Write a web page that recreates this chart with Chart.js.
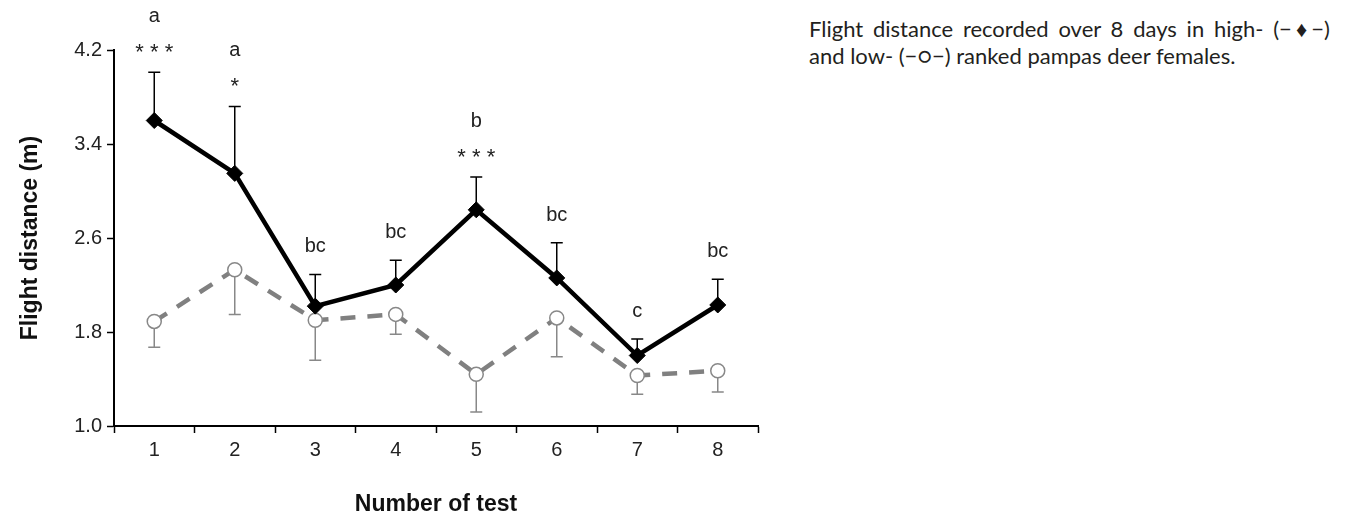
<!DOCTYPE html>
<html>
<head>
<meta charset="utf-8">
<script src="https://cdn.jsdelivr.net/npm/chart.js@4.4.1/dist/chart.umd.min.js"></script>
<style>
    body { margin: 0; background: #fff; }
    #wrap { position: absolute; left: 0; top: 0; width: 800px; height: 518px; }
    #caption {
        position: absolute; left: 809px; top: 15px; width: 521px;
        font-family: Lato, "Open Sans", sans-serif; font-size: 22px; line-height: 27px;
        color: #231f20;
    }
    #caption .l1 { text-align: justify; text-align-last: justify; text-justify: inter-word; white-space: nowrap; }
    #caption .sym { white-space: nowrap; }
</style>
</head>
<body>
<div id="wrap"><canvas id="myChart"></canvas></div>
<div id="caption">
    <div class="l1">Flight distance recorded over 8 days in high- <span class="sym">(−♦−)</span></div>
    <div>and low- <span class="sym">(−○−)</span> ranked pampas deer females.</div>
</div>
<script>
// Dados
const tests = ['1', '2', '3', '4', '5', '6', '7', '8'];
const highMean = [3.60, 3.15, 2.02, 2.20, 2.84, 2.26, 1.60, 2.03];
const highErr = [0.41, 0.57, 0.27, 0.21, 0.28, 0.30, 0.14, 0.22];
const lowMean = [1.89, 2.33, 1.90, 1.95, 1.44, 1.92, 1.43, 1.47];
const lowErr = [0.22, 0.38, 0.34, 0.17, 0.32, 0.33, 0.16, 0.18];
const letters = ['a', 'a', 'bc', 'bc', 'b', 'bc', 'c', 'bc'];
const stars = ['***', '*', '', '', '***', '', '', ''];
const yTicks = [1.0, 1.8, 2.6, 3.4, 4.2];

const FONT = '"Liberation Sans", Arial, sans-serif';

// Barras de erro (alto: para cima, baixo: para baixo)
const errorBars = {
    id: 'errorBars',
    beforeDatasetsDraw(chart) {
        const ctx = chart.ctx;
        const y = chart.scales.y;
        chart.data.datasets.forEach(function (ds, i) {
            const meta = chart.getDatasetMeta(i);
            ctx.save();
            ctx.strokeStyle = ds.errColor;
            ctx.lineWidth = 1.5;
            meta.data.forEach(function (pt, j) {
                const end = y.getPixelForValue(ds.data[j] + ds.errDir * ds.errValues[j]);
                ctx.beginPath();
                ctx.moveTo(pt.x, pt.y);
                ctx.lineTo(pt.x, end);
                ctx.moveTo(pt.x - 6, end);
                ctx.lineTo(pt.x + 6, end);
                ctx.stroke();
            });
            ctx.restore();
        });
    }
};

// Letras e asteriscos acima das barras
const labelsPlugin = {
    id: 'sigLabels',
    afterDatasetsDraw(chart) {
        const ctx = chart.ctx;
        const x = chart.scales.x;
        const y = chart.scales.y;
        ctx.save();
        ctx.fillStyle = '#222';
        ctx.textAlign = 'center';
        ctx.textBaseline = 'alphabetic';
        tests.forEach(function (t, i) {
            const px = x.getPixelForValue(i);
            let base = y.getPixelForValue(highMean[i] + highErr[i]) - 22;
            if (stars[i]) {
                ctx.font = '22px ' + FONT;
                ctx.fillText(stars[i].split('').join(' '), px, base + 9);
                base -= 28;
            }
            ctx.font = '20px ' + FONT;
            ctx.fillText(letters[i], px, base);
        });
        ctx.restore();
    }
};

const ctx = document.getElementById('myChart').getContext('2d');
const myChart = new Chart(ctx, {
    type: 'line',
    data: {
        labels: tests,
        datasets: [{
            label: 'high',
            data: highMean,
            errValues: highErr,
            errDir: 1,
            errColor: '#000',
            borderColor: '#000',
            borderWidth: 4.5,
            pointStyle: 'rectRot',
            pointRadius: 8,
            pointBackgroundColor: '#000',
            pointBorderColor: '#000',
            pointBorderWidth: 1,
            clip: false
        }, {
            label: 'low',
            data: lowMean,
            errValues: lowErr,
            errDir: -1,
            errColor: '#888',
            borderColor: '#808080',
            borderWidth: 4.5,
            borderDash: [15, 12],
            pointStyle: 'circle',
            pointRadius: 7,
            pointBackgroundColor: '#fff',
            pointBorderColor: '#888',
            pointBorderWidth: 1.5,
            clip: false
        }]
    },
    options: {
        responsive: true,
        maintainAspectRatio: false,
        animation: false,
        layout: { padding: { top: 50, right: 42, left: 0, bottom: 0 } },
        plugins: {
            legend: { display: false },
            tooltip: { enabled: false }
        },
        scales: {
            x: {
                type: 'category',
                offset: true,
                grid: { offset: true, drawOnChartArea: false, tickLength: 7, tickColor: '#000', tickWidth: 1.5 },
                border: { color: '#000', width: 2 },
                ticks: { color: '#222', padding: 5, font: { family: FONT, size: 20 } },
                title: {
                    display: true, text: 'Number of test', color: '#111',
                    font: { family: FONT, size: 23, weight: 'bold' }, padding: { top: 0, bottom: 0 }
                },
                afterFit: function (scale) { scale.height = 92; }
            },
            y: {
                min: 1.0,
                max: 4.2,
                afterBuildTicks: function (scale) {
                    scale.ticks = yTicks.map(function (v) { return { value: v }; });
                },
                grid: { drawOnChartArea: false, tickLength: 7, tickColor: '#000', tickWidth: 1.5 },
                border: { color: '#000', width: 2 },
                ticks: {
                    color: '#222', padding: 5, font: { family: FONT, size: 20 },
                    callback: function (value) { return Number(value).toFixed(1); }
                },
                title: {
                    display: true, text: 'Flight distance (m)', color: '#111',
                    font: { family: FONT, size: 23, weight: 'bold' }, padding: { top: 17, bottom: 0 }
                },
                afterFit: function (scale) { scale.width = 114; }
            }
        }
    },
    plugins: [errorBars, labelsPlugin]
});
</script>
</body>
</html>
